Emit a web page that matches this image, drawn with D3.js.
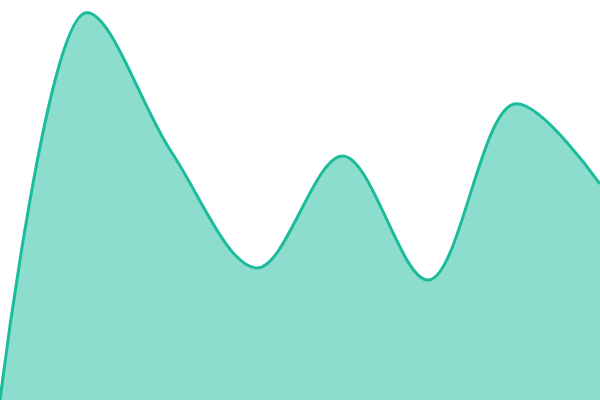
<!DOCTYPE html>
<html><head><meta charset="utf-8">
<script src="https://cdn.jsdelivr.net/npm/d3@7"></script>
<style>html,body{margin:0;padding:0;background:#fff;}svg{display:block;}</style>
</head><body>
<svg id="c" width="600" height="400"></svg>
<script>
const labels = ["1","2","3","4","5","6","7","8"];
const values = [0, 96.8, 62, 33, 61, 30, 74, 54];
const W = 600, H = 400;
const svg = d3.select("#c");
const x = d3.scalePoint().domain(labels).range([0, W]);
const y = d3.scaleLinear().domain([0, 100]).range([H, 0]);
const data = labels.map((l, i) => ({l, v: values[i]}));
const curve = d3.curveCatmullRom;
svg.append("path").datum(data)
  .attr("d", d3.area().x(d => x(d.l)).y0(H).y1(d => y(d.v)).curve(curve))
  .attr("fill", "#1abc9c").attr("fill-opacity", 0.5);
svg.append("path").datum(data)
  .attr("d", d3.line().x(d => x(d.l)).y(d => y(d.v)).curve(curve))
  .attr("fill", "none").attr("stroke", "#1abc9c").attr("stroke-width", 3);
</script>
</body></html>
